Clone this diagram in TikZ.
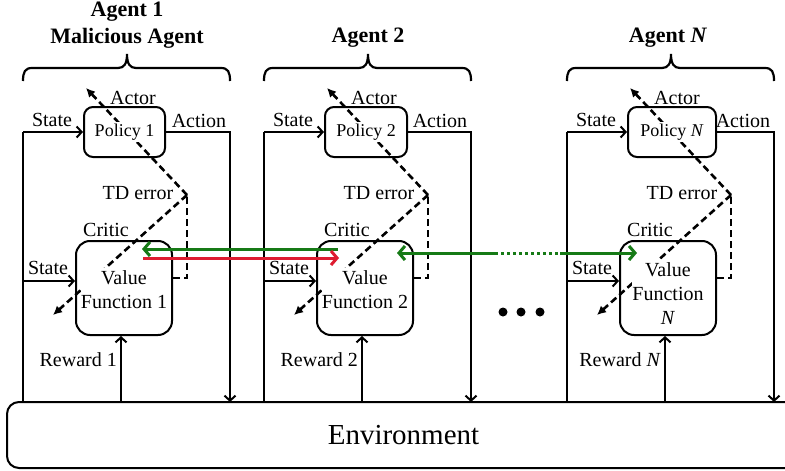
\documentclass[tikz,border=0pt]{standalone}
\usepackage{fontspec}
\setmainfont{Liberation Serif}
\usetikzlibrary{arrows.meta,calc}
\definecolor{tgreen}{RGB}{22,122,22}
\definecolor{tred}{RGB}{222,28,48}
\tikzset{
  wire/.style={line width=2pt},
  wtip/.style={-{Straight Barb[length=5pt,width=11pt]}},
  dashpen/.style={line width=2.6pt, dash pattern=on 7pt off 4pt},
  dashtip/.style={-{Latex[length=9pt,width=9pt]}},
  policybox/.style={draw, line width=2pt, rounded corners=9pt, fill=white,
    minimum height=50pt, inner sep=0pt},
  valuebox/.style={draw, line width=2pt, rounded corners=14pt, fill=white,
    minimum width=96pt, minimum height=94pt, inner sep=0pt},
  ptext/.style={fill=white, inner xsep=0pt, inner ysep=2pt,
    font=\fontsize{18}{21}\selectfont},
  vtext/.style={fill=white, inner xsep=0pt, inner ysep=3pt, align=center,
    font=\fontsize{20}{24}\selectfont},
  lbl/.style={inner sep=0pt, font=\fontsize{20}{24}\selectfont},
  ttl/.style={inner sep=0pt, font=\fontsize{22}{26}\selectfont\bfseries},
  bracepen/.style={line width=2.2pt},
  envbox/.style={draw, line width=2pt, rounded corners=12pt, fill=white,
    minimum width=793pt, minimum height=66pt, font=\fontsize{29}{32}\selectfont},
  share/.style={line width=3pt, color=tgreen, -{Straight Barb[length=6pt,width=14pt]}},
  attack/.style={line width=3pt, color=tred, -{Straight Barb[length=6pt,width=14pt]}},
  sharedots/.style={line width=3pt, color=tgreen, dash pattern=on 3pt off 3pt},
}

% One actor-critic agent: #1 name suffix, #2 x of its left wire,
% #3 policy text, #4 value text, #5 reward text, #6 policy width,
% #7 downward offset of the value text
\newcommand\agentunit[7]{%
  \begin{scope}[xshift=#2pt]
    \coordinate (lt#1) at (0,132);
    \coordinate (lb#1) at (0,402);
    \coordinate (ls#1) at (0,281);
    \coordinate (ac#1) at (207,132);
    \coordinate (ab#1) at (207,402);
    \coordinate (rb#1) at (98,402);
    \coordinate (td#1) at (164,195);
    \coordinate (tdc#1) at (164,278);
    \coordinate (at#1) at (63,88);
    \coordinate (ct#1) at (30,315);
    % brace over the agent
    \draw[bracepen] (0,81) .. controls (0,72) and (2,68) .. (9,68) -- (95,68)
      .. controls (101,68) and (104,64) .. (104,54)
      .. controls (104,64) and (107,68) .. (113,68) -- (198,68)
      .. controls (205,68) and (207,72) .. (207,81);
    % boxes
    \node[policybox, minimum width=#6pt, anchor=west] (p#1) at (60,132) {};
    \node[valuebox] (v#1) at (101,288) {};
    % signal wires
    \draw[wire] (lt#1) -- (lb#1);
    \draw[wire,wtip] (lt#1) -- (p#1.west);
    \draw[wire,wtip] (ls#1) -- (v#1.west |- ls#1);
    \draw[wire,wtip] (p#1.east) -- (ac#1) -- (ab#1);
    \draw[wire,wtip] (rb#1) -- (rb#1 |- v#1.south);
    % TD error paths
    \draw[dashpen] (v#1.east |- tdc#1) -- (tdc#1) -- (td#1);
    \draw[dashpen,dashtip] (td#1) -- (at#1);
    \draw[dashpen,dashtip] (td#1) -- (ct#1);
    % texts
    \node[ptext] (pt#1) at (p#1) {#3};
    \node[vtext] (vt#1) at ($(v#1)+(0,#7)$) {#4};
    \node[lbl] (actor#1) at (110,98) {Actor};
    \node[lbl] (sa#1) at (29,120) {State};
    \node[lbl] (act#1) at (176,121) {Action};
    \node[lbl] (tde#1) at (115,193) {TD error};
    \node[lbl] (crit#1) at (83,230) {Critic};
    \node[lbl] (sb#1) at (25,268) {State};
    \node[lbl, anchor=east] (rw#1) at (94,360) {#5};
  \end{scope}}

\begin{document}
\begin{tikzpicture}[x=1pt,y=-1pt]
\useasboundingbox (0,0) rectangle (785,471);

\node[envbox] (env) at (403.5,435) {Environment};

\agentunit{1}{23}{Policy 1}{Value\\Function 1}{Reward 1}{81}{2}
\agentunit{2}{264}{Policy 2}{Value\\Function 2}{Reward 2}{82}{2}
\agentunit{N}{567}{Policy \textit{N}}{Value\\Function\\\textit{N}}{Reward \textit{N}}{88}{6}

% agent titles
\node[ttl] (t1a) at (127,12) {Agent 1};
\node[ttl] (t1b) at (127,38) {Malicious Agent};
\node[ttl] (t2) at (368,38) {Agent 2};
\node[ttl] (tN) at (668,38) {Agent \textit{N}};

% messages between critics
\coordinate (g1s) at ($(v2)+(-27,-39)$);
\coordinate (g1e) at ($(v1)+(18,-39)$);
\coordinate (r1s) at ($(v1)+(19,-30)$);
\coordinate (r1e) at ($(v2)+(-26,-30)$);
\coordinate (g2l) at ($(v2)+(32,-35)$);
\coordinate (g2a) at (495,253);
\coordinate (g2b) at (560,253);
\coordinate (g2r) at ($(vN)+(-31,-35)$);
\draw[share] (g1s) -- (g1e);
\draw[attack] (r1s) -- (r1e);
\draw[share] (g2a) -- (g2l);
\draw[sharedots] (g2a) -- (g2b);
\draw[share] (g2b) -- (g2r);

% more agents
\fill (503,312) circle (4.5pt);
\fill (521,312) circle (4.5pt);
\fill (540,312) circle (4.5pt);
\end{tikzpicture}
\end{document}
